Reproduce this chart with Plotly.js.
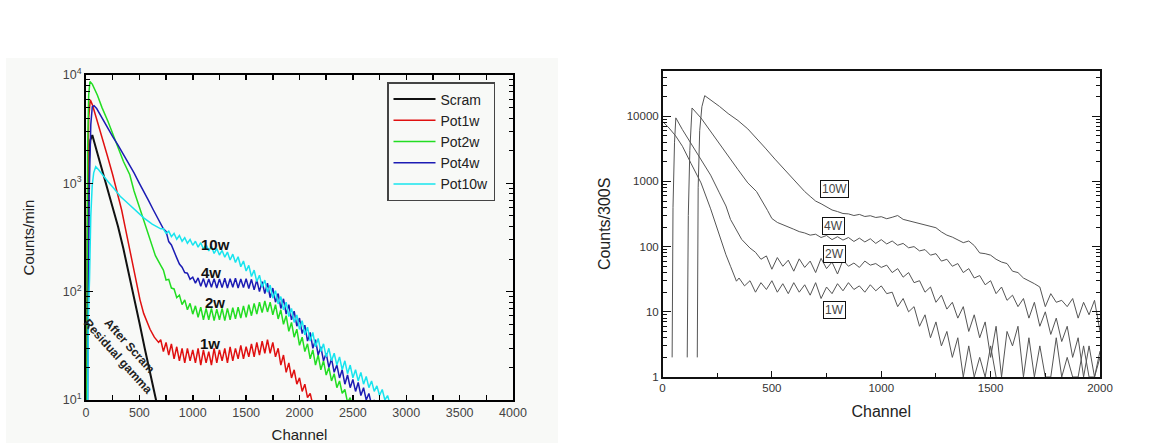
<!DOCTYPE html>
<html><head><meta charset="utf-8">
<script src="https://cdn.plot.ly/plotly-3.0.1.min.js"></script>
<style>html,body{margin:0;padding:0;background:#fff;}#chart{width:1171px;height:443px;}</style>
</head><body><div id="chart"></div>
<script>
// ---------- LEFT PANEL: Counts/min vs Channel ----------
const scramCh = [0,8,15,25,40,59,100,150,200,250,300,350,400,450,500,550,600,630,656,665];
const scramCounts = [8,10,300,1500,2500,2790,2000,1350,920,620,400,250,150,88,52,30,18,13,10,8];

const pot1wCh = [0,8,15,25,40,60,100,150,200,250,300,334,370,400,440,475,506,540,570,600,640,680,
700,725,750,775,800,825,850,875,900,925,950,975,1000,1025,1050,1075,1100,1125,1150,1175,1200,1225,1250,1275,1300,1325,1350,1375,1400,1425,1450,1475,1500,1525,1550,1575,1600,1625,1650,1675,1700,1725,1750,1775,1800,1825,1850,1875,1900,1925,1950,1975,2000,2025,2050,2075,2100,2125,2150];
const pot1wCounts = [8,10,800,4000,5900,5300,3900,2700,1800,1200,780,567,380,270,170,118,84,63,52,45,38,34,
36,28,34,26,33,24,31,23,30,22,30,23,29,22,30,21,29,22,28,21,30,22,29,23,30,22,31,23,30,24,32,24,31,25,33,25,34,26,35,27,36,27,34,25,30,21,26,18,22,16,19,14,16,12,14,10.5,11.5,9,8];

const pot2wCh = [0,8,15,25,37,60,107,150,207,250,307,350,410,450,506,560,608,650,700,
725,750,775,800,825,850,875,900,925,950,975,1000,1025,1050,1075,1100,1125,1150,1175,1200,1225,1250,1275,1300,1325,1350,1375,1400,1425,1450,1475,1500,1525,1550,1575,1600,1625,1650,1675,1700,1725,1750,1775,1800,1825,1850,1875,1900,1925,1950,1975,2000,2025,2050,2075,2100,2125,2150,2175,2200,2225,2250,2275,2300,2325,2350,2375,2400,2425,2450,2475,2500];
const pot2wCounts = [8,10,2000,6500,8700,8200,6500,5000,3700,2900,2100,1600,1200,850,580,400,290,215,175,
158,128,130,108,106,88,93,76,84,68,78,62,74,58,72,55,70,55,70,54,69,55,70,54,70,55,71,56,72,57,74,58,76,60,78,62,80,64,82,65,80,61,76,56,68,50,60,43,52,38,45,32,38,28,33,24,29,21,26,19,23,17,20,15,17.5,13,15,11.5,12.5,9.5,10.5,8];

const pot4wCh = [0,15,30,45,59,75,100,150,207,250,300,381,450,500,541,584,630,674,725,
750,775,800,825,850,875,900,925,950,975,1000,1025,1050,1075,1100,1125,1150,1175,1200,1225,1250,1275,1300,1325,1350,1375,1400,1425,1450,1475,1500,1525,1550,1575,1600,1625,1650,1675,1700,1725,1750,1775,1800,1825,1850,1875,1900,1925,1950,1975,2000,2025,2050,2075,2100,2125,2150,2175,2200,2225,2250,2275,2300,2325,2350,2375,2400,2425,2450,2475,2500,2525,2550,2575,2600,2625,2650,2675,2700,2725];
const pot4wCounts = [8,10,800,3500,5100,5200,4900,4000,3200,2700,2250,1650,1250,1000,850,700,570,470,380,
360,290,270,230,205,180,168,150,148,130,136,120,134,112,132,110,131,110,132,108,131,109,133,108,132,110,133,108,131,109,132,107,130,104,128,100,124,96,120,88,108,80,96,70,86,62,76,55,66,48,57,41,49,35,42,30,36,26,31,23,27,20,24,18,21,16,19,14,17,13,15.5,12,14.5,11,13,10,11.5,9,10,8];

const pot10wCh = [0,15,22,33,45,58,72,91,120,160,207,260,320,374,459,541,620,700,
725,750,775,800,825,850,875,900,925,950,975,1000,1025,1050,1075,1100,1125,1150,1175,1200,1225,1250,1275,1300,1325,1350,1375,1400,1425,1450,1475,1500,1525,1550,1575,1600,1625,1650,1675,1700,1725,1750,1775,1800,1825,1850,1875,1900,1925,1950,1975,2000,2025,2050,2075,2100,2125,2150,2175,2200,2225,2250,2275,2300,2325,2350,2375,2400,2425,2450,2475,2500,2525,2550,2575,2600,2625,2650,2675,2700,2725,2750,2775,2800,2825,2850,2875,2900];
const pot10wCounts = [8,8,60,130,500,950,1250,1425,1330,1180,1035,900,760,680,570,480,420,380,
380,345,362,322,345,305,330,292,315,280,303,268,292,258,283,248,272,238,262,225,250,218,240,208,232,196,222,186,210,170,192,155,175,138,158,124,142,110,128,99,115,87,102,77,90,68,80,59,70,52,61,45,54,40,47,35,42,31,37,28,33,25,30,23,27,21,25,19,23,17.5,21,16,19,15,18,14,16.5,13,15,12,13.5,11,12.5,10,11,9,9.5,8];

const leftNames = ['Scram','Pot1w','Pot2w','Pot4w','Pot10w'];
const leftColors = ['#111111','#e01010','#22dd22','#1c1cb4','#18e4ee'];
const leftLabelText = ['10w','4w','2w','1w'];
const leftLabelCh = [1209,1175,1209,1159];
const leftLabelCounts = [273,151,80,33];
const noteText = 'After Scram<br>Residual gamma';
const noteCh = 360, noteCounts = 28;

// ---------- RIGHT PANEL: Counts/300S vs Channel ----------
const w10Ch = [159,163,170,180,193,225,260,300,345,390,430,470,514,560,599,625,650,675,700,
725,750,775,800,825,850,875,900,925,950,975,1000,1025,1050,1075,1100,1125,1150,1175,1200,1225,1250,1275,1300,1325,1350,1375,1400,1425,1450,1475,1500,1525,1550,1575,1600,1625,1650,1675,1700,1725,1750,1775,1800,1825,1850,1875,1900,1925,1950,1975,2000];
const w10Counts = [2,800,6000,14000,20700,17500,14200,11000,8600,6400,4600,3250,2200,1500,1070,860,700,590,500,
455,410,365,345,322,318,300,312,290,298,280,288,268,282,300,262,250,240,228,220,210,195,168,150,140,128,115,122,104,80,78,74,64,58,55,42,40,33,30,27,24,12,19,14,15,12,16,8,14,9,15,5];

const w4Ch = [113,118,125,135,176,220,260,300,345,390,430,480,
500,525,550,575,600,625,650,675,700,725,750,775,800,825,850,875,900,925,950,975,1000,1025,1050,1075,1100,1125,1150,1175,1200,1225,1250,1275,1300,1325,1350,1375,1400,1425,1450,1475,1500,1525,1550,1575,1600,1625,1650,1675,1700,1725,1750,1775,1800,1825,1850,1875,1900,1925,1950,1975,2000];
const w4Counts = [2,300,3000,13400,9400,5800,3900,2500,1520,950,700,360,
270,235,215,198,185,170,162,150,155,138,148,128,142,126,138,120,135,118,132,112,128,110,122,105,112,96,100,86,90,74,78,60,64,50,55,40,46,33,36,26,30,19,24,15,18,12,16,8,14,6,10,4.5,8,3.5,6,2,4,1,3,1,2.5];

const w2Ch = [44,48,55,61,91,130,176,220,260,290,311,340,362,400,
425,450,475,500,525,550,575,600,625,650,675,700,725,750,775,800,825,850,875,900,925,950,975,1000,1025,1050,1075,1100,1125,1150,1175,1200,1225,1250,1275,1300,1325,1350,1375,1400,1425,1450,1475,1500,1525,1550,1575,1600,1625,1650,1675,1700,1725,1750,1775,1800,1825,1850,1875,1900,1925,1950,1975,2000];
const w2Counts = [2,400,4000,9440,6240,3800,2170,1250,668,420,261,175,129,95,
82,64,72,45,68,50,62,42,65,48,60,40,66,46,58,38,62,50,56,48,60,52,55,48,52,40,46,34,40,28,30,20,24,14,18,11,14,8,12,5,9,4,7,2,6,1,5,3,6,1,4,1,3,1,1,4,1,2,1,1,3,1,1,2];

const w1Ch = [0,30,60,91,130,176,220,260,290,311,325,338,
350,375,400,425,450,475,500,525,550,575,600,625,650,675,700,725,750,775,800,825,850,875,900,925,950,975,1000,1025,1050,1075,1100,1125,1150,1175,1200,1225,1250,1275,1300,1325,1350,1375,1400,1425,1450,1475,1500,1525];
const w1Counts = [8350,6600,5000,3470,1900,950,380,145,75,50,38,29.5,
33,25,30,20,28,22,30,20,27,19,28,20,26,18,28,16,24,19,27,21,28,22,25,20,26,21,25,19,20,12,16,10,12,6,9,4,7,3,5,2,4,1,3,1,2,1,3,1];

const rightLabelText = ['10W','4W','2W','1W'];
const rightLabelCh = [788,780,785,785];
const rightLabelCounts = [760,206,76,10.8];

// ---------- build ----------
const FONT = 'Liberation Sans, Arial, sans-serif';
const leftX = [scramCh,pot1wCh,pot2wCh,pot4wCh,pot10wCh];
const leftY = [scramCounts,pot1wCounts,pot2wCounts,pot4wCounts,pot10wCounts];
const traces = [];
for (let i = 0; i < leftNames.length; i++) {
  traces.push({x:leftX[i], y:leftY[i], name:leftNames[i], type:'scatter', mode:'lines',
    xaxis:'x', yaxis:'y', line:{color:leftColors[i], width:i===0?2:1.5}});
}
const rightX = [w10Ch,w4Ch,w2Ch,w1Ch];
const rightY = [w10Counts,w4Counts,w2Counts,w1Counts];
for (let i = 0; i < rightX.length; i++) {
  traces.push({x:rightX[i], y:rightY[i], name:rightLabelText[i], type:'scatter', mode:'lines',
    xaxis:'x2', yaxis:'y2', showlegend:false, line:{color:'#555555', width:1}});
}

function minorLog(lo, hi) {
  const v = [];
  for (let d = lo; d < hi; d *= 10) for (let m = 2; m <= 9; m++) v.push(m*d);
  return v;
}

const annotations = [];
for (let i = 0; i < leftLabelText.length; i++) {
  annotations.push({xref:'x', yref:'y', x:leftLabelCh[i], y:Math.log10(leftLabelCounts[i]),
    text:'<b>'+leftLabelText[i]+'</b>', showarrow:false,
    font:{family:FONT, size:15, color:'#111'}});
}
annotations.push({xref:'x', yref:'y', x:noteCh, y:Math.log10(noteCounts), text:'<b>'+noteText+'</b>',
  showarrow:false, textangle:48, font:{family:FONT, size:12, color:'#222'}});
for (let i = 0; i < rightLabelText.length; i++) {
  annotations.push({xref:'x2', yref:'y2', x:rightLabelCh[i], y:Math.log10(rightLabelCounts[i]),
    text:rightLabelText[i], showarrow:false, bgcolor:'#ffffff', bordercolor:'#111', borderwidth:1, borderpad:1,
    font:{family:FONT, size:12, color:'#444'}});
}

const W = 1171, H = 443;
const layout = {
  width:W, height:H, margin:{l:0,r:0,t:0,b:0},
  paper_bgcolor:'#ffffff', plot_bgcolor:'rgba(0,0,0,0)',
  showlegend:true,
  legend:{x:387/W, y:1-82/H, xanchor:'left', yanchor:'top', bgcolor:'rgba(255,255,255,0)',
    bordercolor:'#444', borderwidth:1.5, font:{family:FONT, size:14, color:'#222'}, tracegroupgap:0,
    itemwidth:42},
  shapes:[{type:'rect', xref:'paper', yref:'paper', x0:6/W, x1:558/W, y0:0, y1:1-58/H,
    fillcolor:'#f8f9f7', line:{width:0}, layer:'below'}],
  xaxis:{domain:[86/W, 513/W], anchor:'y', range:[0,4000], tick0:0, dtick:500,
    ticks:'inside', ticklen:5, tickwidth:1.5, tickcolor:'#000',
    minor:{dtick:250, ticks:'inside', ticklen:5, tickwidth:1.5, tickcolor:'#000'},
    showline:true, linecolor:'#000', linewidth:2, mirror:'allticks', showgrid:false, zeroline:false,
    tickfont:{family:FONT, size:12.5, color:'#444'},
    title:{text:'Channel', font:{family:FONT, size:15, color:'#222'}, standoff:13}},
  yaxis:{domain:[1-400/H, 1-75/H], anchor:'x', type:'log', range:[1,4],
    tickmode:'array', tickvals:[10,100,1000,10000],
    ticktext:['10<sup>1</sup>','10<sup>2</sup>','10<sup>3</sup>','10<sup>4</sup>'],
    ticks:'inside', ticklen:7, tickwidth:1.5, tickcolor:'#000',
    minor:{tickmode:'array', tickvals:minorLog(10,10000), ticks:'inside', ticklen:4, tickwidth:1, tickcolor:'#000'},
    showline:true, linecolor:'#000', linewidth:2, mirror:'allticks', showgrid:false, zeroline:false,
    tickfont:{family:FONT, size:12.5, color:'#444'},
    title:{text:'Counts/min', font:{family:FONT, size:15, color:'#222'}, standoff:24}},
  xaxis2:{domain:[662.5/W, 1100/W], anchor:'y2', range:[0,2000], tick0:0, dtick:500,
    ticks:'inside', ticklen:6, tickwidth:1, tickcolor:'#111',
    minor:{dtick:250, ticks:'inside', ticklen:4, tickwidth:1, tickcolor:'#111'},
    showline:true, linecolor:'#111', linewidth:1.5, mirror:true, showgrid:false, zeroline:false,
    tickfont:{family:FONT, size:11.5, color:'#333'},
    title:{text:'Channel', font:{family:FONT, size:16, color:'#222'}, standoff:12}},
  yaxis2:{domain:[1-377/H, 1-70.7/H], anchor:'x2', type:'log', range:[0, Math.log10(50000)],
    tickmode:'array', tickvals:[1,10,100,1000,10000], ticktext:['1','10','100','1000','10000'],
    ticks:'inside', ticklen:8, tickwidth:1, tickcolor:'#111',
    minor:{tickmode:'array', tickvals:minorLog(1,100000).filter(v=>v<=50000), ticks:'inside', ticklen:4, tickwidth:1, tickcolor:'#111'},
    showline:true, linecolor:'#111', linewidth:1.5, mirror:'allticks', showgrid:false, zeroline:false,
    tickfont:{family:FONT, size:11.5, color:'#333'},
    title:{text:'Counts/300S', font:{family:FONT, size:16, color:'#222'}, standoff:12}},
  annotations:annotations
};
Plotly.newPlot('chart', traces, layout, {displayModeBar:false, staticPlot:true});
</script></body></html>
